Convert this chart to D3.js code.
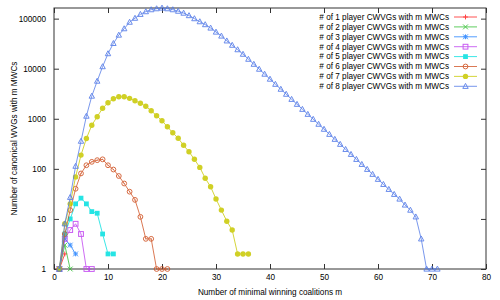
<!DOCTYPE html>
<html>
<head>
<meta charset="utf-8">
<script src="https://cdn.jsdelivr.net/npm/d3@7"></script>
<style>
  body { margin: 0; background: #fff; }
  svg text { font-family: "Liberation Sans", Arial, sans-serif; font-size: 8.2px; fill: #000; }
</style>
</head>
<body>
<div id="chart"></div>
<script>
// chart size and plot box
const width = 500;
const height = 300;
const margin = {left: 54, right: 14, top: 8, bottom: 31};

// number of minimal winning coalitions m, counted per number of players
const m1 = [1, 2];
const v1 = [1, 2];
const m2 = [1, 2, 3];
const v2 = [1, 3, 1];
const m3 = [1, 2, 3, 4];
const v3 = [1, 4, 3, 2];
const m4 = [1, 2, 3, 4, 5, 6, 7];
const v4 = [1, 4, 6, 8, 5, 1, 1];
const m5 = [1, 2, 3, 4, 5, 6, 7, 8, 9, 10, 11];
const v5 = [1, 5, 10, 20, 26, 20, 14, 13, 5, 2, 2];
const m6 = d3.range(1, 22);
const v6 = [1, 5, 15, 40, 81, 118, 138, 149, 155, 118, 97, 72, 51, 35, 24, 11, 4, 4, 1, 1, 1];
const m7 = d3.range(1, 37);
const v7 = [1, 8, 20, 69, 188, 405, 745, 1100, 1620, 2090, 2510, 2750, 2750, 2560, 2290,
  2040, 1780, 1450, 1150, 912, 692, 525, 407, 295, 219, 155, 107, 65, 44, 25, 15, 9, 6, 2, 2, 2];
const m8 = d3.range(1, 72);
const v8 = [1, 8, 27, 113, 357, 1130, 2840, 5650, 11000, 20000, 32000, 47000, 63000, 85000,
  102000, 122000, 138000, 151000, 158000, 163000, 158000, 151000, 141000, 129000, 115000,
  100000, 87000, 76000, 65000, 54000, 45000, 36000, 29500, 24000, 19500, 15500, 12300, 9800,
  7800, 6200, 4900, 3900, 3100, 2450, 1950, 1550, 1230, 980, 780, 620, 490, 390, 310, 245,
  195, 155, 123, 98, 78, 62, 49, 39, 31, 25, 19, 15, 11, 4, 1, 1, 1];

const xTicks = [0, 10, 20, 30, 40, 50, 60, 70, 80];
const yTicks = [1, 10, 100, 1000, 10000, 100000];

const colors = ["#ff2020", "#30c030", "#2080ff", "#c040f0", "#00e0e0", "#d05020", "#c8c800", "#5078e8"];
const markers = ["plus", "cross", "star", "square", "fsquare", "ocircle", "fcircle", "triangle"];

const series = [
  {n: 1, m: m1, v: v1}, {n: 2, m: m2, v: v2}, {n: 3, m: m3, v: v3}, {n: 4, m: m4, v: v4},
  {n: 5, m: m5, v: v5}, {n: 6, m: m6, v: v6}, {n: 7, m: m7, v: v7}, {n: 8, m: m8, v: v8}
];

const svg = d3.select("#chart")
  .append("svg")
  .attr("width", width)
  .attr("height", height);

// scales
const xScale = d3.scaleLinear()
  .domain([0, 80])
  .range([margin.left, width - margin.right]);

const yScale = d3.scaleLog()
  .domain([1, d3.max(v8)])
  .range([height - margin.bottom, margin.top]);

// axes, ticks point inward and are mirrored on top and right
svg.append("g")
  .attr("transform", `translate(0,${height - margin.bottom})`)
  .call(d3.axisBottom(xScale).tickValues(xTicks).tickSizeInner(-5).tickSizeOuter(0).tickPadding(5))
  .call(g => g.select(".domain").remove());

svg.append("g")
  .attr("transform", `translate(0,${margin.top})`)
  .call(d3.axisTop(xScale).tickValues(xTicks).tickSizeInner(-5).tickSizeOuter(0).tickFormat(""))
  .call(g => g.select(".domain").remove());

svg.append("g")
  .attr("transform", `translate(${margin.left},0)`)
  .call(d3.axisLeft(yScale).tickValues(yTicks).tickFormat(d3.format("d")).tickSizeInner(-5).tickSizeOuter(0).tickPadding(8))
  .call(g => g.select(".domain").remove());

svg.append("g")
  .attr("transform", `translate(${width - margin.right},0)`)
  .call(d3.axisRight(yScale).tickValues(yTicks).tickFormat("").tickSizeInner(-5).tickSizeOuter(0))
  .call(g => g.select(".domain").remove());

svg.selectAll(".tick line").attr("stroke", "#333");
svg.selectAll(".tick text").attr("font-size", "8.2px").attr("font-family", null);

// plot border
svg.append("rect")
  .attr("x", margin.left)
  .attr("y", margin.top)
  .attr("width", width - margin.left - margin.right)
  .attr("height", height - margin.top - margin.bottom)
  .attr("fill", "none")
  .attr("stroke", "#333")
  .attr("stroke-width", 1);

// axis titles
svg.append("text")
  .attr("x", (margin.left + width - margin.right) / 2)
  .attr("y", 295)
  .attr("text-anchor", "middle")
  .text("Number of minimal winning coalitions m");

svg.append("text")
  .attr("transform", `translate(17,${(margin.top + height - margin.bottom) / 2}) rotate(-90)`)
  .attr("text-anchor", "middle")
  .text("Number of canonical WVGs with m MWCs");

// draws one marker of the given kind
function drawMarker(g, kind, color) {
  const r = 2.4;
  if (kind === "plus") {
    g.append("path").attr("d", `M${-r},0H${r}M0,${-r}V${r}`).attr("stroke", color).attr("fill", "none");
  } else if (kind === "cross") {
    g.append("path").attr("d", `M${-r},${-r}L${r},${r}M${-r},${r}L${r},${-r}`).attr("stroke", color).attr("fill", "none");
  } else if (kind === "star") {
    g.append("path").attr("d", `M${-r},0H${r}M0,${-r}V${r}M${-r},${-r}L${r},${r}M${-r},${r}L${r},${-r}`).attr("stroke", color).attr("fill", "none");
  } else if (kind === "square") {
    g.append("rect").attr("x", -r).attr("y", -r).attr("width", 2 * r).attr("height", 2 * r).attr("stroke", color).attr("fill", "none");
  } else if (kind === "fsquare") {
    g.append("rect").attr("x", -r).attr("y", -r).attr("width", 2 * r).attr("height", 2 * r).attr("fill", color);
  } else if (kind === "ocircle") {
    g.append("circle").attr("r", r).attr("stroke", color).attr("fill", "none");
    g.append("circle").attr("r", 0.6).attr("fill", color);
  } else if (kind === "fcircle") {
    g.append("circle").attr("r", r + 0.3).attr("fill", color);
  } else {
    g.append("path").attr("d", `M0,${-r - 0.5}L${r + 0.3},${r - 0.3}L${-r - 0.3},${r - 0.3}Z`).attr("stroke", color).attr("fill", "none");
  }
}

const line = d3.line()
  .x(d => xScale(d[0]))
  .y(d => yScale(d[1]));

// curves
series.forEach((s, i) => {
  const pts = s.m.map((m, j) => [m, s.v[j]]);
  const g = svg.append("g").attr("opacity", 0.85);
  g.append("path")
    .datum(pts)
    .attr("d", line)
    .attr("fill", "none")
    .attr("stroke", colors[i])
    .attr("stroke-width", 0.9);
  g.selectAll(".pt")
    .data(pts)
    .enter()
    .append("g")
    .attr("transform", d => `translate(${xScale(d[0])},${yScale(d[1])})`)
    .each(function() { drawMarker(d3.select(this), markers[i], colors[i]); });
});

// legend
const legend = svg.append("g");
series.forEach((s, i) => {
  const y = 17 + i * 9.9;
  legend.append("text")
    .attr("x", 449)
    .attr("y", y)
    .attr("dy", "0.35em")
    .attr("text-anchor", "end")
    .text(`# of ${s.n} player CWVGs with m MWCs`);
  const g = legend.append("g").attr("opacity", 0.85);
  g.append("line")
    .attr("x1", 454).attr("x2", 477)
    .attr("y1", y).attr("y2", y)
    .attr("stroke", colors[i])
    .attr("stroke-width", 0.9);
  drawMarker(g.append("g").attr("transform", `translate(465.5,${y})`), markers[i], colors[i]);
});
</script>
</body>
</html>
